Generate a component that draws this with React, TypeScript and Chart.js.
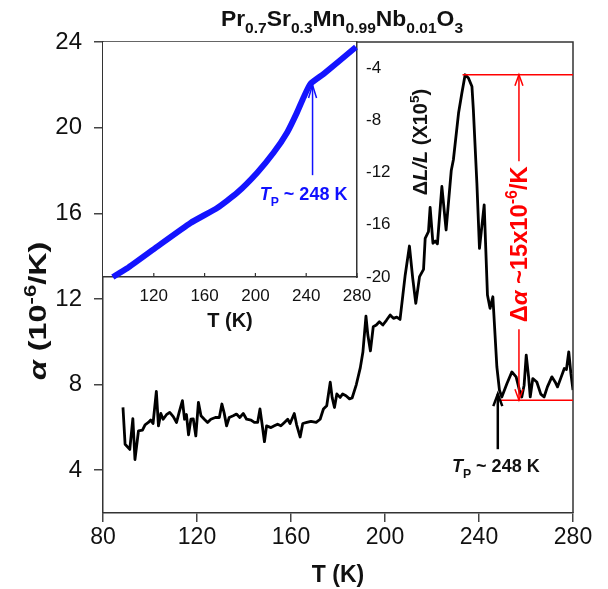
import React, { useEffect, useRef } from "react";
import { Chart, registerables } from "chart.js";
Chart.register(...registerables);

// ---------- data ----------
const mainT = [
  88.5, 89.4, 91.4, 92.7, 93.6, 95.1, 96.8, 97.9, 99.3, 100.3, 101.3, 102.7, 103.6, 104.6, 105.6, 107.0,
  108.4, 109.9, 111.3, 112.4, 113.8, 114.7, 115.5, 116.4, 117.4, 118.4, 119.5, 120.6, 121.7, 123.1, 124.5,
  125.9, 127.8, 129.5, 130.6, 131.6, 132.6, 133.7, 135.4, 136.8, 138.2, 139.7, 141.1, 143.0, 144.4, 145.8,
  146.8, 147.7, 148.7, 149.6, 151.5, 152.9, 154.3, 155.7, 157.2, 158.6, 159.6, 161.4, 162.4, 163.9, 165.0,
  166.7, 168.5, 170.7, 172.4, 173.8, 175.2, 176.7, 177.5, 178.5, 179.5, 180.9, 182.0, 183.4, 184.9, 186.0,
  187.8, 189.5, 190.6, 191.9, 192.7, 193.8, 195.0, 196.3, 197.6, 199.1, 200.6, 202.2, 203.6, 205.0, 206.4,
  207.6, 208.6, 210.4, 211.8, 213.1, 214.7, 216.4, 217.1, 218.5, 219.2, 220.4, 221.4, 222.3, 224.2, 226.0,
  228.2, 229.1, 231.3, 232.7, 234.1, 235.5, 237.0, 237.6, 239.1, 240.2, 242.2, 243.6, 244.7, 245.9, 247.6,
  248.7, 249.7, 251.9, 254.0, 255.8, 257.2, 258.2, 259.2, 260.1, 261.1, 261.8, 262.9, 264.6, 266.3, 267.7,
  269.1, 271.0, 272.4, 273.4, 274.8, 276.3, 277.2, 278.2, 279.1, 280.0,
];
const mainAlpha = [
  6.93, 5.21, 4.97, 6.41, 4.5, 5.84, 5.87, 6.12, 6.23, 6.34, 6.18, 7.68, 6.07, 6.65, 6.38, 6.59,
  6.70, 6.5, 6.23, 6.70, 7.25, 6.38, 6.6, 5.65, 6.38, 6.4, 5.60, 7.17, 6.54, 6.38, 6.23,
  6.38, 6.46, 6.46, 7.09, 6.65, 6.07, 6.46, 6.54, 6.62, 6.46, 6.65, 6.38, 6.34, 6.23, 6.23,
  6.86, 6.15, 5.33, 6.07, 5.99, 6.07, 6.15, 6.07, 6.23, 6.38, 6.18, 6.65, 6.12, 5.55, 6.18,
  6.23, 6.28, 6.23, 6.38, 6.86, 7.01, 8.11, 7.40, 6.93, 7.56, 7.40, 7.56, 7.48, 7.33, 7.37,
  8.0, 8.79, 9.52, 11.2, 10.31, 9.57, 10.70, 10.78, 10.93, 10.78, 11.0, 11.25, 11.09, 11.15, 11.04,
  12.18, 13.12, 14.47, 12.96, 11.79, 13.04, 13.38, 14.83, 15.14, 16.28, 14.6, 14.7, 14.57, 17.25, 15.22,
  18.0, 18.5, 20.68, 21.61, 22.47, 22.32, 21.92, 20.83, 17.4, 14.36, 16.39, 12.18, 11.56, 12.1, 8.83,
  7.74, 7.42, 8.05, 8.59, 8.36, 7.74, 7.42, 7.97, 9.37, 8.36, 7.42, 8.28, 8.12, 7.55, 7.42,
  7.89, 8.36, 8.12, 7.89, 8.3, 8.75, 8.7, 9.53, 8.52, 7.74,
];

const insetT = [87.7, 99.1, 122.7, 148.9, 169.9, 185.6, 201.4, 214.4, 225.0, 232.8, 238.0, 243.3, 253.8, 279.2];
const insetDL = [-20.0, -19.33, -17.67, -15.86, -14.71, -13.55, -12.01, -10.47, -8.93, -7.39, -6.23, -5.21, -4.44, -2.38];

const mainXTicks = [80, 120, 160, 200, 240, 280];
const mainYTicks = [4, 8, 12, 16, 20, 24];
const insetXTicks = [120, 160, 200, 240, 280];
const insetYTicks = [-4, -8, -12, -16, -20];

// annotation values (data space)
const TP = 248;
const peakAlpha = 22.47;
const baseAlpha = 7.27;
const peakLineStartT = 233;
const baseLineStartT = 249;
const deltaArrowT = 257;
const tpArrowFrom = 4.98;
const tpArrowTo = 7.55;
const insetArrowT = 245;
const insetArrowFrom = -12.2;
const insetArrowTo = -5.3;

const FAMILY = '"Liberation Sans", Arial, Helvetica, sans-serif';

type Seg = { t: string; italic?: boolean; pos?: "sub" | "sup" };

function drawRich(
  ctx: CanvasRenderingContext2D,
  segs: Seg[],
  x: number,
  y: number,
  size: number,
  color: string,
  rotate = 0,
  stretch = 1
) {
  ctx.save();
  ctx.translate(x, y);
  ctx.rotate(rotate);
  ctx.scale(stretch, 1);
  ctx.fillStyle = color;
  ctx.textBaseline = "alphabetic";
  ctx.textAlign = "left";
  const fnt = (s: number, it?: boolean) => `${it ? "italic " : ""}bold ${s}px ${FAMILY}`;
  let total = 0;
  const ws: number[] = [];
  for (const s of segs) {
    const sz = s.pos ? size * 0.68 : size;
    ctx.font = fnt(sz, s.italic);
    const w = ctx.measureText(s.t).width;
    ws.push(w);
    total += w;
  }
  let cx = -total / 2;
  segs.forEach((s, i) => {
    const sz = s.pos ? size * 0.68 : size;
    ctx.font = fnt(sz, s.italic);
    const dy = s.pos === "sub" ? size * 0.3 : s.pos === "sup" ? -size * 0.42 : 0;
    ctx.fillText(s.t, cx, dy);
    cx += ws[i];
  });
  ctx.restore();
}

function arrowHead(ctx: CanvasRenderingContext2D, x: number, y: number, dir: 1 | -1, len: number, half: number) {
  // dir -1: pointing up; 1: pointing down
  ctx.beginPath();
  ctx.moveTo(x - half, y - dir * len);
  ctx.lineTo(x, y);
  ctx.lineTo(x + half, y - dir * len);
  ctx.stroke();
}

export default function App() {
  const mainRef = useRef<HTMLCanvasElement>(null);
  const insetRef = useRef<HTMLCanvasElement>(null);

  useEffect(() => {
    const mainPlugin = {
      id: "mainDecor",
      afterDatasetsDraw(chart: any) {
        const ctx: CanvasRenderingContext2D = chart.ctx;
        const { left, right, top, bottom } = chart.chartArea;
        const xs = chart.scales.x;
        const ys = chart.scales.y;
        ctx.save();
        // frame top & right
        ctx.strokeStyle = "#333";
        ctx.lineWidth = 1.5;
        ctx.beginPath();
        ctx.moveTo(left, top);
        ctx.lineTo(right, top);
        ctx.lineTo(right, bottom);
        ctx.stroke();

        // red annotation
        ctx.strokeStyle = "#ff0000";
        ctx.lineWidth = 1.5;
        const yPeak = ys.getPixelForValue(peakAlpha);
        const yBase = ys.getPixelForValue(baseAlpha);
        ctx.beginPath();
        ctx.moveTo(xs.getPixelForValue(peakLineStartT), yPeak);
        ctx.lineTo(right, yPeak);
        ctx.moveTo(xs.getPixelForValue(baseLineStartT), yBase);
        ctx.lineTo(right, yBase);
        const xa = xs.getPixelForValue(deltaArrowT);
        const textCenterY = ys.getPixelForValue(14.55);
        ctx.moveTo(xa, yPeak);
        ctx.lineTo(xa, textCenterY - 83);
        ctx.moveTo(xa, textCenterY + 85);
        ctx.lineTo(xa, yBase);
        ctx.stroke();
        arrowHead(ctx, xa, yPeak, -1, 11, 4);
        arrowHead(ctx, xa, yBase, 1, 11, 4);
        drawRich(
          ctx,
          [{ t: "Δ" }, { t: "α", italic: true }, { t: " ~15x10" }, { t: "-6", pos: "sup" }, { t: "/K" }],
          xa + 8,
          textCenterY,
          23,
          "#ff0000",
          -Math.PI / 2,
          1.03
        );

        // black Tp arrow
        ctx.strokeStyle = "#000";
        ctx.lineWidth = 2.5;
        const xt = xs.getPixelForValue(TP);
        const yTo = ys.getPixelForValue(tpArrowTo);
        ctx.beginPath();
        ctx.moveTo(xt, ys.getPixelForValue(tpArrowFrom));
        ctx.lineTo(xt, yTo);
        ctx.stroke();
        arrowHead(ctx, xt, yTo, -1, 12, 4.5);
        drawRich(
          ctx,
          [{ t: "T", italic: true }, { t: "P", pos: "sub" }, { t: " ~ 248 K" }],
          xt - 2,
          ys.getPixelForValue(tpArrowFrom) + 23,
          18,
          "#111"
        );

        // title
        drawRich(
          ctx,
          [
            { t: "Pr" }, { t: "0.7", pos: "sub" },
            { t: "Sr" }, { t: "0.3", pos: "sub" },
            { t: "Mn" }, { t: "0.99", pos: "sub" },
            { t: "Nb" }, { t: "0.01", pos: "sub" },
            { t: "O" }, { t: "3", pos: "sub" },
          ],
          342,
          26,
          22,
          "#111",
          0,
          1.04
        );
        // axis titles
        drawRich(ctx, [{ t: "T (K)" }], (left + right) / 2, 582, 23, "#111");
        drawRich(
          ctx,
          [{ t: "α", italic: true }, { t: " (10" }, { t: "-6", pos: "sup" }, { t: "/K)" }],
          46,
          311,
          24,
          "#111",
          -Math.PI / 2,
          1.35
        );
        ctx.restore();
      },
    };

    const main = new Chart(mainRef.current!, {
      type: "line",
      data: {
        datasets: [
          {
            data: mainT.map((t, i) => ({ x: t, y: mainAlpha[i] })),
            borderColor: "#000",
            borderWidth: 2.8,
            pointRadius: 0,
            tension: 0,
            borderJoinStyle: "round",
            fill: false,
          },
        ],
      },
      options: {
        animation: false,
        responsive: false,
        events: [],
        layout: { padding: { left: 0, top: 42, right: 35, bottom: 0 } },
        plugins: { legend: { display: false }, tooltip: { enabled: false }, title: { display: false } },
        scales: {
          x: {
            type: "linear",
            min: 80,
            max: 280,
            afterBuildTicks: (s: any) => {
              s.ticks = mainXTicks.map((v) => ({ value: v }));
            },
            afterFit: (s: any) => {
              s.height = 76;
            },
            grid: { drawOnChartArea: false, drawTicks: true, tickLength: 9, color: "#444", lineWidth: 1.5 },
            border: { color: "#333", width: 1.5 },
            ticks: { color: "#111", font: { size: 23, family: FAMILY }, padding: 2, maxRotation: 0 },
          },
          y: {
            type: "linear",
            min: 2,
            max: 24,
            afterBuildTicks: (s: any) => {
              s.ticks = mainYTicks.map((v) => ({ value: v }));
            },
            afterFit: (s: any) => {
              s.width = 103;
            },
            grid: { drawOnChartArea: false, drawTicks: true, tickLength: 9, color: "#444", lineWidth: 1.5 },
            border: { color: "#333", width: 1.5 },
            ticks: { color: "#111", font: { size: 24, family: FAMILY }, padding: 12 },
          },
        },
      },
      plugins: [mainPlugin],
    } as any);

    const insetPlugin = {
      id: "insetDecor",
      beforeDraw(chart: any) {
        const ctx: CanvasRenderingContext2D = chart.ctx;
        const { left, right, top, bottom } = chart.chartArea;
        ctx.save();
        ctx.fillStyle = "#fff";
        ctx.fillRect(left, top, right - left, bottom - top);
        ctx.restore();
      },
      afterDraw(chart: any) {
        const ctx: CanvasRenderingContext2D = chart.ctx;
        const { right, bottom } = chart.chartArea;
        const xs = chart.scales.x;
        const ys = chart.scales.y;
        ctx.save();
        // inward x ticks
        ctx.strokeStyle = "#333";
        ctx.lineWidth = 1.2;
        ctx.beginPath();
        for (const v of insetXTicks) {
          const px = xs.getPixelForValue(v);
          ctx.moveTo(px, bottom);
          ctx.lineTo(px, bottom - 4);
        }
        ctx.stroke();
        // blue arrow
        ctx.strokeStyle = "#1010ff";
        ctx.lineWidth = 1.5;
        const xa = xs.getPixelForValue(insetArrowT);
        const yTo = ys.getPixelForValue(insetArrowTo);
        ctx.beginPath();
        ctx.moveTo(xa, ys.getPixelForValue(insetArrowFrom));
        ctx.lineTo(xa, yTo);
        ctx.stroke();
        arrowHead(ctx, xa, yTo, -1, 13, 4);
        drawRich(
          ctx,
          [{ t: "T", italic: true }, { t: "P", pos: "sub" }, { t: " ~ 248 K" }],
          xa - 9,
          ys.getPixelForValue(insetArrowFrom) + 25,
          18,
          "#1010ff"
        );
        // titles
        drawRich(ctx, [{ t: "T (K)" }], 230, 327, 20, "#111");
        drawRich(
          ctx,
          [{ t: "Δ" }, { t: "L/L", italic: true }, { t: " (X10" }, { t: "5", pos: "sup" }, { t: ")" }],
          right + 70,
          142,
          20,
          "#111",
          -Math.PI / 2
        );
        ctx.restore();
      },
    };

    const inset = new Chart(insetRef.current!, {
      type: "line",
      data: {
        datasets: [
          {
            data: insetT.map((t, i) => ({ x: t, y: insetDL[i] })),
            borderColor: "#1414ff",
            borderWidth: 6,
            pointRadius: 0,
            tension: 0.15,
            fill: false,
            clip: false,
          },
        ],
      },
      options: {
        animation: false,
        responsive: false,
        events: [],
        layout: { padding: { left: 103, top: 42, right: 191, bottom: 262 } },
        plugins: { legend: { display: false }, tooltip: { enabled: false } },
        scales: {
          x: {
            type: "linear",
            min: 80,
            max: 280,
            afterBuildTicks: (s: any) => {
              s.ticks = insetXTicks.map((v) => ({ value: v }));
            },
            afterFit: (s: any) => {
              s.height = 50;
            },
            grid: { display: false, drawTicks: false },
            border: { color: "#333", width: 1.5 },
            ticks: { color: "#111", font: { size: 17, family: FAMILY }, padding: 9, maxRotation: 0 },
          },
          y: {
            type: "linear",
            position: "right",
            min: -20,
            max: -2,
            afterBuildTicks: (s: any) => {
              s.ticks = insetYTicks.map((v) => ({ value: v }));
            },
            afterFit: (s: any) => {
              s.width = 60;
            },
            grid: { display: false, drawTicks: false },
            border: { color: "#333", width: 1.5 },
            ticks: { color: "#111", font: { size: 17, family: FAMILY }, padding: 9 },
          },
        },
      },
      plugins: [insetPlugin],
    } as any);

    return () => {
      main.destroy();
      inset.destroy();
    };
  }, []);

  const canvasStyle: React.CSSProperties = { position: "absolute", left: 0, top: 0, width: 608, height: 589 };
  return (
    <div style={{ position: "fixed", left: 0, top: 0, width: 608, height: 589, background: "#fff" }}>
      <canvas ref={mainRef} width={608} height={589} style={canvasStyle} />
      <canvas ref={insetRef} width={608} height={589} style={canvasStyle} />
    </div>
  );
}
